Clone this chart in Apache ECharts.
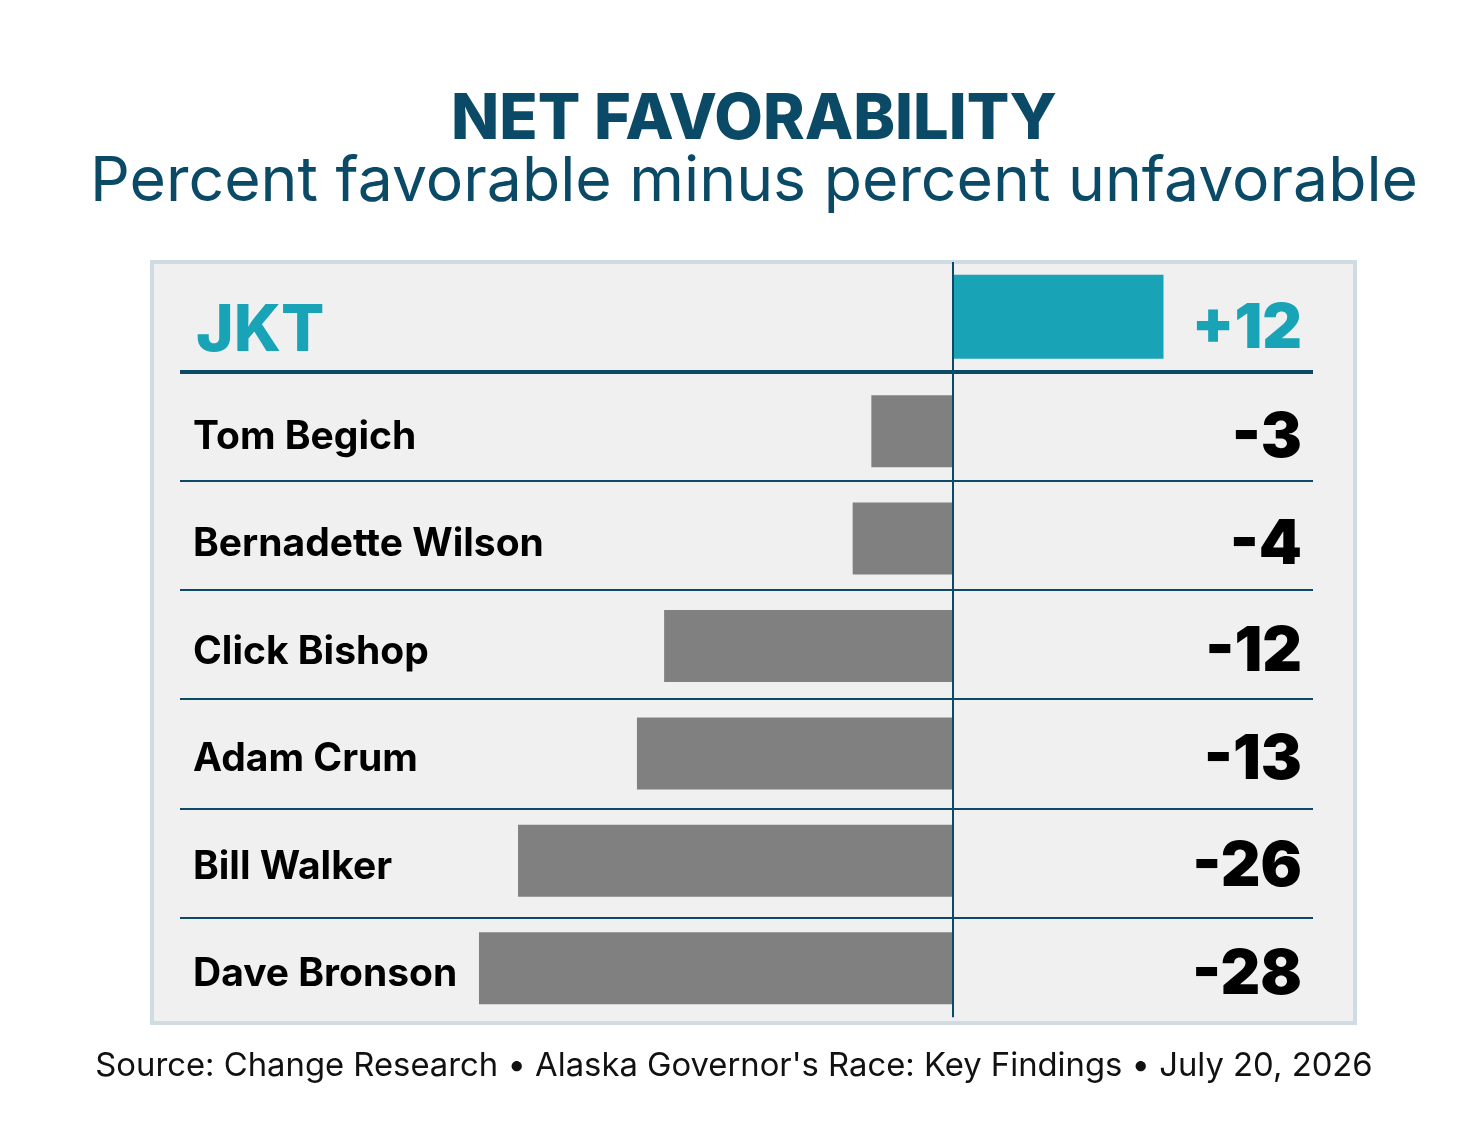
<!DOCTYPE html>
<html>
<head>
<meta charset="utf-8">
<title>Net favorability</title>
<script src="https://cdn.jsdelivr.net/npm/echarts@6/dist/echarts.min.js"></script>
<style>
  html, body { margin: 0; padding: 0; background: #fff; }
  #chart { width: 1472px; height: 1136px; }
</style>
</head>
<body>
<div id="chart"></div>
<script>
// rows, top to bottom
const candidates = ['JKT', 'Tom Begich', 'Bernadette Wilson', 'Click Bishop', 'Adam Crum', 'Bill Walker', 'Dave Bronson'];
// printed net favorability (favorable minus unfavorable)
const netFavorability = [12, -3, -4, -12, -13, -26, -28];
// bar lengths as drawn in the picture (the artwork is not to scale for every row)
const barLengths = [12.4, -4.8, -5.9, -17, -18.6, -25.6, -27.9];

const TEAL = '#19a3b7';
const NAVY = '#0b4a66';
const GREY = '#808080';
const FONT = 'Inter';

const fmtNet = v => (v > 0 ? '+' + v : String(v));
const rowBreaks = candidates.slice(1).map((_, i) => i + 1);

const chart = echarts.init(document.getElementById('chart'), null, { renderer: 'canvas' });

// two grids over the same x range: grid 0 carries the row rules, the zero
// line and the highlighted bar; grid 1 carries the candidate rows + labels
const X_RANGE = { type: 'value', min: -45.5, max: 21.2, show: false };
const HIDDEN_CAT = {
  type: 'category', data: candidates, inverse: true,
  axisLine: { show: false }, axisTick: { show: false }, splitLine: { show: false },
};

chart.setOption({
  animation: false,
  backgroundColor: '#fff',
  textStyle: { fontFamily: FONT },
  title: [
    {
      text: 'NET FAVORABILITY', left: 754, top: 89, textAlign: 'center', padding: 0,
      textStyle: { fontFamily: FONT, fontSize: 63, fontWeight: 800, color: NAVY, lineHeight: 62 },
    },
    {
      text: 'Percent favorable minus percent unfavorable', left: 754, top: 152, textAlign: 'center', padding: 0,
      textStyle: { fontFamily: FONT, fontSize: 62.5, fontWeight: 400, color: NAVY, lineHeight: 60 },
    },
    {
      text: "Source: Change Research \u2022 Alaska Governor's Race: Key Findings \u2022 July 20, 2026",
      left: 734, top: 1050, textAlign: 'center', padding: 0,
      textStyle: { fontFamily: FONT, fontSize: 32.8, fontWeight: 400, color: '#111', lineHeight: 32 },
    },
  ],
  // the light panel behind the rows
  graphic: [{
    type: 'rect', z: -10, silent: true,
    shape: { x: 152, y: 262, width: 1203, height: 761 },
    style: { fill: '#f0f0f0', stroke: '#cfdce3', lineWidth: 4 },
  }],
  grid: [
    { left: 180, right: 159, top: 262, bottom: 109, outerBoundsMode: 'none', containLabel: false },
    { left: 180, right: 159, top: 270, bottom: 114, outerBoundsMode: 'none', containLabel: false },
  ],
  xAxis: [
    { ...X_RANGE, gridIndex: 0 },
    { ...X_RANGE, gridIndex: 1 },
  ],
  yAxis: [
    // 0: hidden row scale for the rules between rows
    { type: 'value', gridIndex: 0, min: 0, max: candidates.length, inverse: true, show: false },
    // 1: hidden category axis for the highlighted bar
    { ...HIDDEN_CAT, gridIndex: 0, show: false },
    // 2: candidate names
    {
      ...HIDDEN_CAT, gridIndex: 1, position: 'left',
      axisLabel: {
        inside: true, margin: 13,
        formatter: (v, i) => (i === 0 ? `{hl|${v}}` : `{n|${v}}`),
        rich: {
          hl: { fontFamily: FONT, fontSize: 64, fontWeight: 800, color: TEAL, padding: [16, 0, 0, 3] },
          n: { fontFamily: FONT, fontSize: 39, fontWeight: 700, color: '#000', padding: [12, 0, 0, 0] },
        },
      },
    },
    // 3: printed values
    {
      ...HIDDEN_CAT, data: netFavorability.map(fmtNet), gridIndex: 1, position: 'right',
      axisLabel: {
        inside: true, margin: 11,
        formatter: (v, i) => (i === 0 ? `{hl|${v}}` : `{n|${v}}`),
        rich: {
          hl: { fontFamily: FONT, fontSize: 61.5, fontWeight: 900, color: TEAL, padding: [11, 0, 0, 0] },
          n: { fontFamily: FONT, fontSize: 61.5, fontWeight: 900, color: '#000', padding: [14, 0, 0, 0] },
        },
      },
    },
  ],
  series: [
    {
      name: 'JKT', type: 'bar', xAxisIndex: 0, yAxisIndex: 1, barWidth: 84,
      data: barLengths.map((v, i) => (i === 0 ? v : '-')),
      itemStyle: { color: TEAL },
      silent: true,
    },
    {
      name: 'Candidates', type: 'bar', xAxisIndex: 1, yAxisIndex: 2, barWidth: 72,
      data: barLengths.map((v, i) => (i === 0 ? '-' : v)),
      itemStyle: { color: GREY },
      silent: true,
    },
    {
      name: 'rules', type: 'line', xAxisIndex: 0, yAxisIndex: 0, data: [],
      markLine: {
        silent: true, symbol: ['none', 'none'], label: { show: false },
        lineStyle: { color: NAVY, width: 2, type: 'solid' },
        data: [
          ...rowBreaks.map(b => ({ yAxis: b, lineStyle: { color: NAVY, width: b === 1 ? 4 : 2, type: 'solid' } })),
          [{ coord: [0, 0] }, { coord: [0, 6.91] }],
        ],
      },
    },
  ],
});
</script>
</body>
</html>
